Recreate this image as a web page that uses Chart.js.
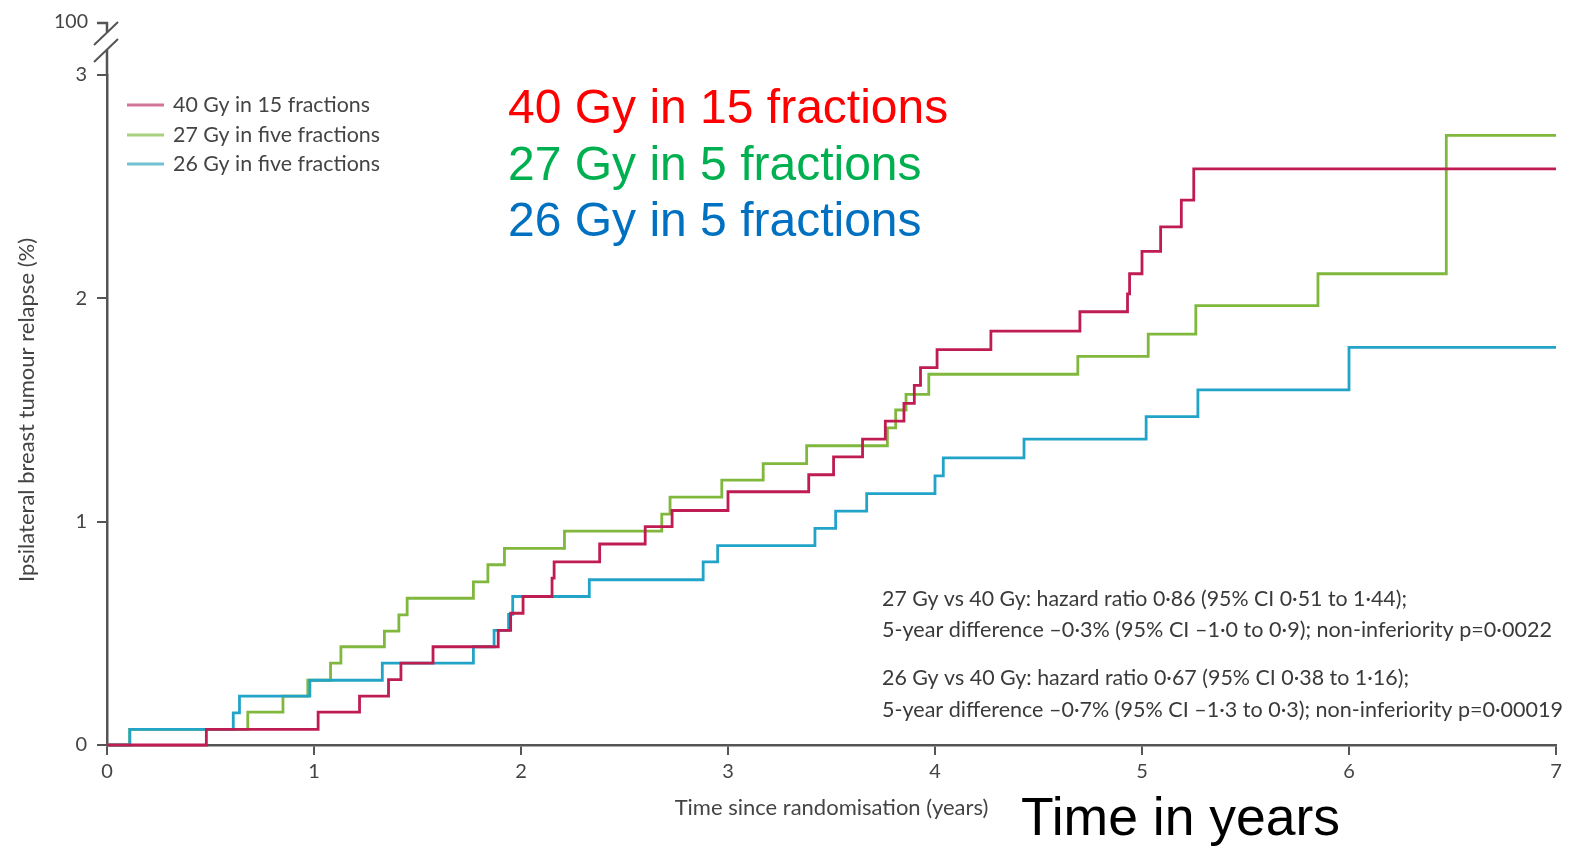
<!DOCTYPE html>
<html>
<head>
<meta charset="utf-8">
<script src="https://cdn.jsdelivr.net/npm/chart.js@4.4.1/dist/chart.umd.min.js"></script>
<style>
  html, body { margin:0; padding:0; background:#fff; overflow:hidden; }
</style>
</head>
<body>
<canvas id="chart" width="1585" height="847"></canvas>
<script>
// cumulative ipsilateral relapse (%), step times in years
const years40 = [0, 0.48, 1.02, 1.22, 1.36, 1.42, 1.575, 1.89, 1.95, 2.01, 2.15, 2.16, 2.38, 2.60, 2.73, 3.00, 3.39, 3.51, 3.65, 3.76, 3.85, 3.90, 3.93, 4.01, 4.27, 4.70, 4.93, 4.94, 5.00, 5.09, 5.19, 5.25, 7.0];
const pct40   = [0, 0.07, 0.147, 0.219, 0.293, 0.367, 0.44, 0.513, 0.59, 0.665, 0.747, 0.82, 0.90, 0.978, 1.05, 1.134, 1.21, 1.29, 1.37, 1.45, 1.53, 1.61, 1.69, 1.77, 1.853, 1.94, 2.02, 2.11, 2.21, 2.32, 2.44, 2.58, 2.58];

const years27 = [0, 0.11, 0.68, 0.85, 0.97, 1.08, 1.13, 1.34, 1.41, 1.45, 1.77, 1.84, 1.92, 2.21, 2.68, 2.72, 2.97, 3.17, 3.38, 3.77, 3.81, 3.86, 3.97, 4.69, 5.03, 5.26, 5.85, 6.47, 7.0];
const pct27   = [0, 0.07, 0.147, 0.219, 0.29, 0.367, 0.44, 0.51, 0.583, 0.657, 0.73, 0.807, 0.88, 0.958, 1.034, 1.11, 1.186, 1.26, 1.34, 1.42, 1.50, 1.57, 1.66, 1.74, 1.84, 1.967, 2.11, 2.73, 2.73];

const years26 = [0, 0.11, 0.61, 0.64, 0.98, 1.33, 1.77, 1.87, 1.94, 1.96, 2.33, 2.88, 2.95, 3.42, 3.52, 3.67, 4.00, 4.04, 4.43, 5.02, 5.27, 6.00, 7.0];
const pct26   = [0, 0.07, 0.144, 0.219, 0.29, 0.367, 0.44, 0.513, 0.585, 0.665, 0.74, 0.82, 0.893, 0.97, 1.047, 1.126, 1.205, 1.286, 1.37, 1.47, 1.59, 1.78, 1.78];

const seriesLabels = ['40 Gy in 15 fractions', '27 Gy in five fractions', '26 Gy in five fractions'];
const overlayLabels = ['40 Gy in 15 fractions', '27 Gy in 5 fractions', '26 Gy in 5 fractions'];
const xTicks = [0, 1, 2, 3, 4, 5, 6, 7];
const yTicks = [0, 1, 2, 3];
const brokenTopLabel = '100';

const statLines = [
  '27 Gy vs 40 Gy: hazard ratio 0·86 (95% CI 0·51 to 1·44);',
  '5-year difference \u20130·3% (95% CI \u20131·0 to 0·9); non-inferiority p=0·0022',
  '26 Gy vs 40 Gy: hazard ratio 0·67 (95% CI 0·38 to 1·16);',
  '5-year difference \u20130·7% (95% CI \u20131·3 to 0·3); non-inferiority p=0·00019'
];

const lineColors = ['#bf1d52', '#80b83e', '#22a4c8'];
const legendColors = ['#d2739a', '#a9d07e', '#72c2d4'];
const overlayColors = ['#ff0000', '#00b050', '#0070c0'];
const paperFont = 'Lato, "Open Sans", sans-serif';
const inkColor = '#444';

function toPoints(xs, ys) {
  return xs.map((x, i) => ({ x, y: ys[i] }));
}

// draw text squeezed to a given width (journal font is condensed)
function fitText(ctx, text, x, y, width, font, color) {
  ctx.save();
  ctx.font = font;
  ctx.fillStyle = color;
  ctx.textBaseline = 'middle';
  ctx.textAlign = 'left';
  const w = ctx.measureText(text).width;
  ctx.translate(x, y);
  if (width) ctx.scale(width / w, 1);
  ctx.fillText(text, 0, 0);
  ctx.restore();
}

const decorations = {
  id: 'decorations',
  afterDraw(chart) {
    const ctx = chart.ctx;
    const { left, top } = chart.chartArea;

    // y axis broken at the top, with the 100 tick
    ctx.save();
    ctx.strokeStyle = '#555';
    ctx.lineWidth = 2.5;
    ctx.beginPath();
    ctx.moveTo(left, top); ctx.lineTo(left, 49.5);
    ctx.moveTo(left, 32.5); ctx.lineTo(left, 23);
    ctx.lineTo(left - 10, 23);
    ctx.stroke();
    ctx.lineWidth = 2;
    ctx.beginPath();
    ctx.moveTo(94, 45); ctx.lineTo(118, 22);
    ctx.moveTo(94, 62); ctx.lineTo(118, 39);
    ctx.stroke();
    ctx.restore();
    fitText(ctx, brokenTopLabel, 54, 22, 34, '19px ' + paperFont, inkColor);

    // legend of the original figure
    const rows = [105, 135, 164];
    const textW = [197, 207, 207];
    chart.data.datasets.forEach((ds, i) => {
      ctx.save();
      ctx.strokeStyle = legendColors[i];
      ctx.lineWidth = 3;
      ctx.beginPath();
      ctx.moveTo(127, rows[i]); ctx.lineTo(164, rows[i]);
      ctx.stroke();
      ctx.restore();
      fitText(ctx, seriesLabels[i], 173, rows[i], textW[i], '21px ' + paperFont, inkColor);
    });

    // statistics block
    const sy = [599, 630, 678, 710];
    const sw = [525, 670, 527, 681];
    statLines.forEach((t, i) => fitText(ctx, t, 882, sy[i], sw[i], '22px ' + paperFont, '#3a3a3a'));

    // coloured labels added on the slide
    ctx.save();
    ctx.font = '48px "Liberation Sans", Arial, sans-serif';
    ctx.textBaseline = 'alphabetic';
    const oy = [123, 180, 236];
    overlayLabels.forEach((t, i) => {
      ctx.fillStyle = overlayColors[i];
      ctx.fillText(t, 508, oy[i]);
    });
    ctx.fillStyle = '#000';
    ctx.font = '53.5px "Liberation Sans", Arial, sans-serif';
    ctx.fillText('Time in years', 1021, 835);
    ctx.restore();
  }
};

const drawOrder = [0, 2, 1];
const datasets = [
  { label: seriesLabels[0], data: toPoints(years40, pct40) },
  { label: seriesLabels[1], data: toPoints(years27, pct27) },
  { label: seriesLabels[2], data: toPoints(years26, pct26) }
].map((d, i) => ({
  ...d,
  order: drawOrder[i],
  borderColor: lineColors[i],
  backgroundColor: lineColors[i],
  borderWidth: 2.8,
  stepped: 'before',
  pointRadius: 0,
  fill: false,
  clip: false
}));

new Chart(document.getElementById('chart').getContext('2d'), {
  type: 'line',
  data: { datasets },
  options: {
    responsive: false,
    animation: false,
    layout: { padding: { top: 75, right: 29, bottom: 0, left: 0 } },
    plugins: { legend: { display: false }, tooltip: { enabled: false } },
    scales: {
      x: {
        type: 'linear', min: 0, max: 7,
        afterBuildTicks: s => { s.ticks = xTicks.map(v => ({ value: v })); },
        afterFit: s => { s.height = 102; },
        ticks: { color: inkColor, font: { family: paperFont, size: 20 }, padding: 5, maxRotation: 0 },
        grid: { drawOnChartArea: false, drawTicks: true, tickLength: 10, color: '#555', lineWidth: 2 },
        border: { color: '#555', width: 2.5 },
        title: { display: true, text: 'Time since randomisation (years)', color: inkColor,
                 font: { family: paperFont, size: 22 }, padding: { top: 0, bottom: 26 } }
      },
      y: {
        min: 0, max: 3,
        afterBuildTicks: s => { s.ticks = yTicks.map(v => ({ value: v })); },
        afterFit: s => { s.width = 107; },
        ticks: { color: inkColor, font: { family: paperFont, size: 20 }, padding: 10 },
        grid: { drawOnChartArea: false, drawTicks: true, tickLength: 10, color: '#555', lineWidth: 2 },
        border: { color: '#555', width: 2.5 },
        title: { display: true, text: 'Ipsilateral breast tumour relapse (%)', color: inkColor,
                 font: { family: paperFont, size: 22 }, padding: { top: 14, bottom: 0 } }
      }
    }
  },
  plugins: [decorations]
});
</script>
</body>
</html>
